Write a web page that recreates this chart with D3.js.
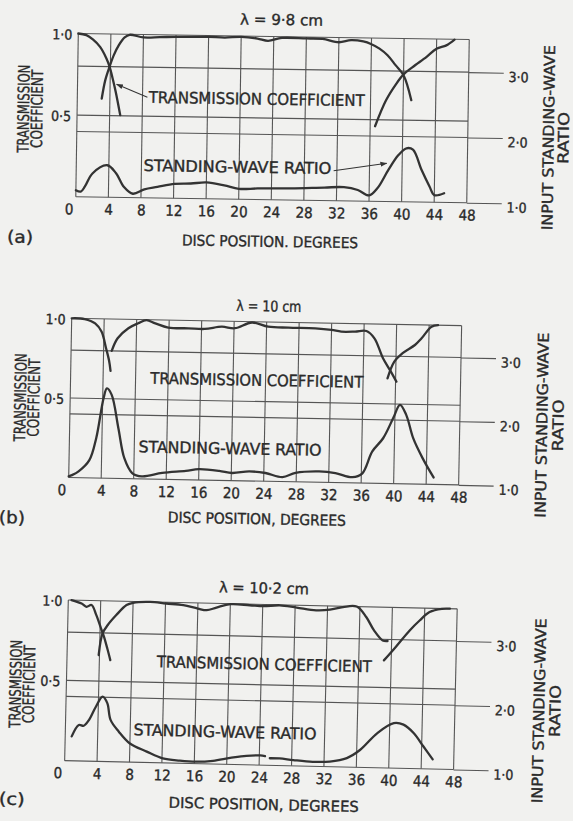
<!DOCTYPE html>
<html>
<head>
<meta charset="utf-8">
<script src="https://cdn.jsdelivr.net/npm/d3@7"></script>
<style>
  body { margin: 0; background: #f1f1ef; }
  svg { display: block; }
  text { font-family: "DejaVu Sans Condensed", "DejaVu Sans", sans-serif; fill: #2a2a2a;
         stroke: #2a2a2a; stroke-width: 0.35px; }
</style>
</head>
<body>
<svg id="fig" width="573" height="821"></svg>
<script>
// ---- axis ticks ----
const degTicks = d3.range(0, 49, 4);   // disc position, degrees
const tcTicks = [0.5, 1.0];            // transmission coefficient
const swrTicks = [1, 2, 3];            // input standing-wave ratio

// ---- (a) lambda = 9.8 cm : [degrees, value] ----
const tcA1 = [[0,1.0],[1.0,0.991],[1.8,0.965],[2.7,0.92],[3.5,0.85],[3.9,0.80],[4.3,0.728],[4.7,0.647],[5.3,0.504]];
const tcA2 = [[3.0,0.604],[3.4,0.717],[3.9,0.80],[4.4,0.871],[5.0,0.932],[5.7,0.98],[6.3,0.997],[8,0.982],[10,0.985],[12,0.989],[14,0.990],[16,0.992],[18,0.989],[20,0.995],[22,0.986],[23.3,0.973],[25,0.992],[28,0.991],[30,0.99],[32,0.971],[33.5,0.985],[35,0.978],[36,0.962],[37,0.936],[38,0.896],[39,0.836],[40,0.775],[41,0.623]];
const tcA3 = [[36.6,0.46],[37.9,0.62],[39.1,0.72],[40,0.78],[41.1,0.826],[42.8,0.89],[44,0.94],[45.2,0.962],[46.2,0.998]];
const swrA = [[0,1.10],[0.6,1.08],[1.1,1.16],[2.0,1.36],[3.8,1.49],[4.9,1.37],[5.9,1.16],[7.0,1.06],[8.4,1.13],[10,1.17],[12.1,1.22],[14.1,1.23],[16,1.25],[18.2,1.21],[20,1.16],[22.3,1.17],[26.4,1.18],[30.5,1.20],[32.9,1.21],[34.6,1.17],[36,1.09],[37,1.20],[38.3,1.48],[39.5,1.71],[40.5,1.82],[41.3,1.80],[42.4,1.49],[43.4,1.24],[44,1.11],[45.2,1.14]];
const tcArrowA = [[8.6,0.616],[4.8,0.693]];
const swrArrowA = [[31.6,1.46],[38.1,1.585]];

// ---- (b) lambda = 10 cm ----
const tcB1 = [[0,1.0],[1.6,0.997],[2.9,0.971],[3.7,0.92],[4.3,0.816],[4.7,0.738],[4.9,0.675]];
const tcB2 = [[5.0,0.80],[5.7,0.88],[7.0,0.944],[8.2,0.977],[9.2,0.997],[10.3,0.978],[11.9,0.953],[14.4,0.951],[16.4,0.949],[18.5,0.965],[20.1,0.957],[22.2,0.995],[24.2,0.971],[26.7,0.967],[30,0.966],[32,0.958],[33.2,0.948],[34.9,0.95],[36.3,0.955],[37.3,0.91],[38.4,0.786],[39.4,0.703],[40.1,0.641]];
const tcB3 = [[39,0.66],[39.8,0.766],[40.8,0.82],[42.3,0.873],[43.1,0.916],[44.3,0.99],[45.1,1.0]];
const swrB = [[0,1.02],[0.4,1.04],[1.2,1.10],[2.5,1.28],[3.3,1.63],[4.1,2.25],[4.5,2.41],[5.1,2.31],[6.0,1.79],[6.8,1.32],[7.8,1.09],[9.0,1.04],[11.5,1.10],[14.4,1.14],[16,1.17],[18.5,1.15],[20.1,1.12],[22.2,1.15],[24.2,1.13],[26.3,1.07],[27.9,1.14],[30.8,1.17],[32.8,1.15],[34.9,1.09],[36.1,1.15],[37.3,1.50],[38.6,1.71],[39.8,2.03],[40.6,2.24],[41.4,2.08],[42.3,1.72],[43.5,1.41],[44.9,1.11]];

// ---- (c) lambda = 10.2 cm ----
const tcC1 = [[0.4,1.0],[1.65,0.98],[2.26,0.96],[2.88,0.972],[3.5,0.91],[4.1,0.83],[4.5,0.777],[4.94,0.705],[5.35,0.632]];
const tcC2 = [[3.9,0.662],[4.32,0.797],[4.94,0.85],[5.96,0.913],[7.2,0.977],[8,0.992],[10.1,1.0],[12.1,0.992],[14.2,0.984],[16,0.965],[17.1,0.956],[18.3,0.974],[20,0.997],[22.4,0.993],[24.1,0.989],[26.1,0.997],[28.2,0.985],[30.6,0.971],[32.3,0.977],[33.9,0.995],[35.6,1.0],[36.8,0.936],[37.8,0.854],[38.9,0.793],[39.5,0.79]];
const tcC3 = [[39.1,0.669],[40.5,0.753],[42.2,0.859],[43.4,0.922],[44.6,0.976],[46.1,0.998],[47.1,1.0]];
const swrC1 = [[0.8,1.38],[1.65,1.56],[2.26,1.55],[2.88,1.64],[3.7,1.85],[4.5,2.01],[5.1,1.91],[5.55,1.65],[6.6,1.47],[8,1.29],[10.1,1.17],[12.1,1.07],[14.2,1.04],[16.2,1.03],[18.3,1.05],[20.4,1.10],[22.4,1.14],[24.1,1.15],[24.7,1.14]];
const swrC2 = [[25.3,1.11],[26.5,1.11],[28.2,1.09],[30.6,1.07],[32.7,1.08],[34.8,1.14],[36.4,1.27],[38.5,1.54],[40.5,1.70],[41.7,1.68],[43,1.55],[44.2,1.35],[45.4,1.15]];

// ---- panel layout (position, tilt, label placement in panel frame) ----
const panels = [
  { x0: 78.3, y0: 33.5, w: 391, h: 163.3, angle: 0.88,
    title: "λ = 9·8 cm", titlePos: [203, -17, 83],
    tc: [tcA1, tcA2, tcA3], swr: [swrA],
    tcLabel: [179.4, 62.5, 216], swrLabel: [161.2, 130.8, 188],
    xTitle: "DISC POSITION. DEGREES", xTitlePos: [195, 205, 176],
    tag: "(a)", tagPos: [-55, 204],
    leftTitle: [-53.8, -40.4, 76], rightTitle: [471.6, 486.6, 97],
    arrows: true },
  { x0: 71.7, y0: 318.3, w: 390, h: 159.3, angle: 1.08,
    title: "λ = 10 cm", titlePos: [197, -16, 65],
    tc: [tcB1, tcB2, tcB3], swr: [swrB],
    tcLabel: [186.2, 58.2, 213], swrLabel: [160.8, 127, 183],
    xTitle: "DISC POSITION, DEGREES", xTitlePos: [189, 197, 178],
    tag: "(b)", tagPos: [-56, 200],
    leftTitle: [-50, -36.6, 80], rightTitle: [472, 488.2, 98],
    arrows: false },
  { x0: 68.3, y0: 600, w: 389, h: 160.7, angle: 1.3,
    title: "λ = 10·2 cm", titlePos: [195.4, -16.5, 90],
    tc: [tcC1, tcC2, tcC3], swr: [swrC1, swrC2],
    tcLabel: [197.4, 59.5, 215], swrLabel: [159.7, 128.1, 183],
    xTitle: "DISC POSITION, DEGREES", xTitlePos: [200, 200, 190],
    tag: "(c)", tagPos: [-52, 200],
    leftTitle: [-51, -37.6, 85], rightTitle: [473, 489, 100],
    arrows: false }
];

const INK = "#333";
const GRID = "#555";
const svg = d3.select("#fig");

svg.append("defs").append("marker")
  .attr("id", "head").attr("viewBox", "0 0 10 10").attr("refX", 9).attr("refY", 5)
  .attr("markerWidth", 7).attr("markerHeight", 7).attr("orient", "auto")
  .append("path").attr("d", "M0,1.5 L10,5 L0,8.5 Z").attr("fill", INK);

const fmt = d => d3.format(".1f")(d).replace(".", "·");

function label(g, s, x, y, size, len, rot) {
  const t = g.append("text")
    .attr("x", x).attr("y", y).attr("dy", "0.36em")
    .attr("font-size", size).attr("text-anchor", "middle").text(s);
  if (len) t.attr("textLength", len).attr("lengthAdjust", "spacingAndGlyphs");
  if (rot) t.attr("transform", `rotate(${rot},${x},${y})`);
  return t;
}

function drawPanel(p) {
  const g = svg.append("g").attr("transform", `translate(${p.x0},${p.y0}) rotate(${p.angle})`);
  const x = d3.scaleLinear().domain([0, 48]).range([0, p.w]);
  const yT = d3.scaleLinear().domain([0, 1]).range([p.h, 0]);
  const yS = d3.scaleLinear().domain([1, 3.5]).range([p.h, 0]);

  // grid
  const grid = g.append("g").attr("stroke", GRID).attr("stroke-width", 1.1).attr("fill", "none");
  grid.selectAll(".v").data(degTicks).join("line").attr("class", "v")
    .attr("x1", d => x(d)).attr("x2", d => x(d)).attr("y1", 0).attr("y2", p.h);
  const hy = [yT(0), yT(0.5), yT(1), yS(2), yS(3)];
  grid.selectAll(".h").data(hy).join("line").attr("class", "h")
    .attr("x1", 0).attr("x2", p.w).attr("y1", d => d).attr("y2", d => d);

  // left axis: transmission coefficient
  const ax = g.append("g").call(d3.axisLeft(yT).tickValues(tcTicks).tickSize(0).tickPadding(6).tickFormat(fmt));
  ax.select(".domain").remove();
  ax.selectAll("text").attr("font-size", 14).attr("font-family", null).attr("dy", "0.4em");

  // right axis: standing-wave ratio, ticks run out from the grid
  const ar = g.append("g").attr("transform", `translate(${p.w},0)`)
    .call(d3.axisRight(yS).tickValues(swrTicks).tickSize(35).tickPadding(5).tickFormat(fmt));
  ar.select(".domain").remove();
  ar.selectAll("line").attr("stroke", GRID).attr("stroke-width", 1.1);
  ar.selectAll("text").attr("font-size", 14).attr("font-family", null).attr("dy", "0.62em");

  // bottom axis: disc position
  const ab = g.append("g").attr("transform", `translate(0,${p.h})`)
    .call(d3.axisBottom(x).tickValues(degTicks).tickSize(0).tickPadding(7).tickFormat(d => String(d)));
  ab.select(".domain").remove();
  ab.selectAll("text").attr("font-size", 15).attr("font-family", null)
    .attr("dx", d => d === 0 ? -7 : 0);

  // curves
  const lineT = d3.line().x(d => x(d[0])).y(d => yT(d[1])).curve(d3.curveCatmullRom.alpha(0.5));
  const lineS = d3.line().x(d => x(d[0])).y(d => yS(d[1])).curve(d3.curveCatmullRom.alpha(0.5));
  const curves = g.append("g").attr("fill", "none").attr("stroke", INK)
    .attr("stroke-width", 2.3).attr("stroke-linecap", "round").attr("stroke-linejoin", "round");
  curves.selectAll(".tc").data(p.tc).join("path").attr("class", "tc").attr("d", lineT);
  curves.selectAll(".swr").data(p.swr).join("path").attr("class", "swr").attr("d", lineS);

  // pointers from the curve names
  if (p.arrows) {
    const arr = g.append("g").attr("stroke", INK).attr("stroke-width", 1).attr("fill", "none");
    arr.append("line")
      .attr("x1", x(tcArrowA[0][0])).attr("y1", yT(tcArrowA[0][1]))
      .attr("x2", x(tcArrowA[1][0])).attr("y2", yT(tcArrowA[1][1]))
      .attr("marker-end", "url(#head)");
    arr.append("line")
      .attr("x1", x(swrArrowA[0][0])).attr("y1", yS(swrArrowA[0][1]))
      .attr("x2", x(swrArrowA[1][0])).attr("y2", yS(swrArrowA[1][1]))
      .attr("marker-end", "url(#head)");
  }

  // texts
  label(g, p.title, p.titlePos[0], p.titlePos[1], 15, p.titlePos[2]);
  label(g, "TRANSMISSION COEFFICIENT", p.tcLabel[0], p.tcLabel[1], 16, p.tcLabel[2]);
  label(g, "STANDING-WAVE RATIO", p.swrLabel[0], p.swrLabel[1], 16, p.swrLabel[2]);
  label(g, p.xTitle, p.xTitlePos[0], p.xTitlePos[1], 15, p.xTitlePos[2]);
  label(g, p.tag, p.tagPos[0], p.tagPos[1], 17, 26);
  label(g, "TRANSMISSION", p.leftTitle[0], p.leftTitle[2], 16, 88, -90);
  label(g, "COEFFICIENT", p.leftTitle[1], p.leftTitle[2], 16, 78, -90);
  label(g, "INPUT STANDING-WAVE", p.rightTitle[0], p.rightTitle[2], 15, 185, -90);
  label(g, "RATIO", p.rightTitle[1], p.rightTitle[2], 15, 52, -90);
}

panels.forEach(drawPanel);
</script>
</body>
</html>
